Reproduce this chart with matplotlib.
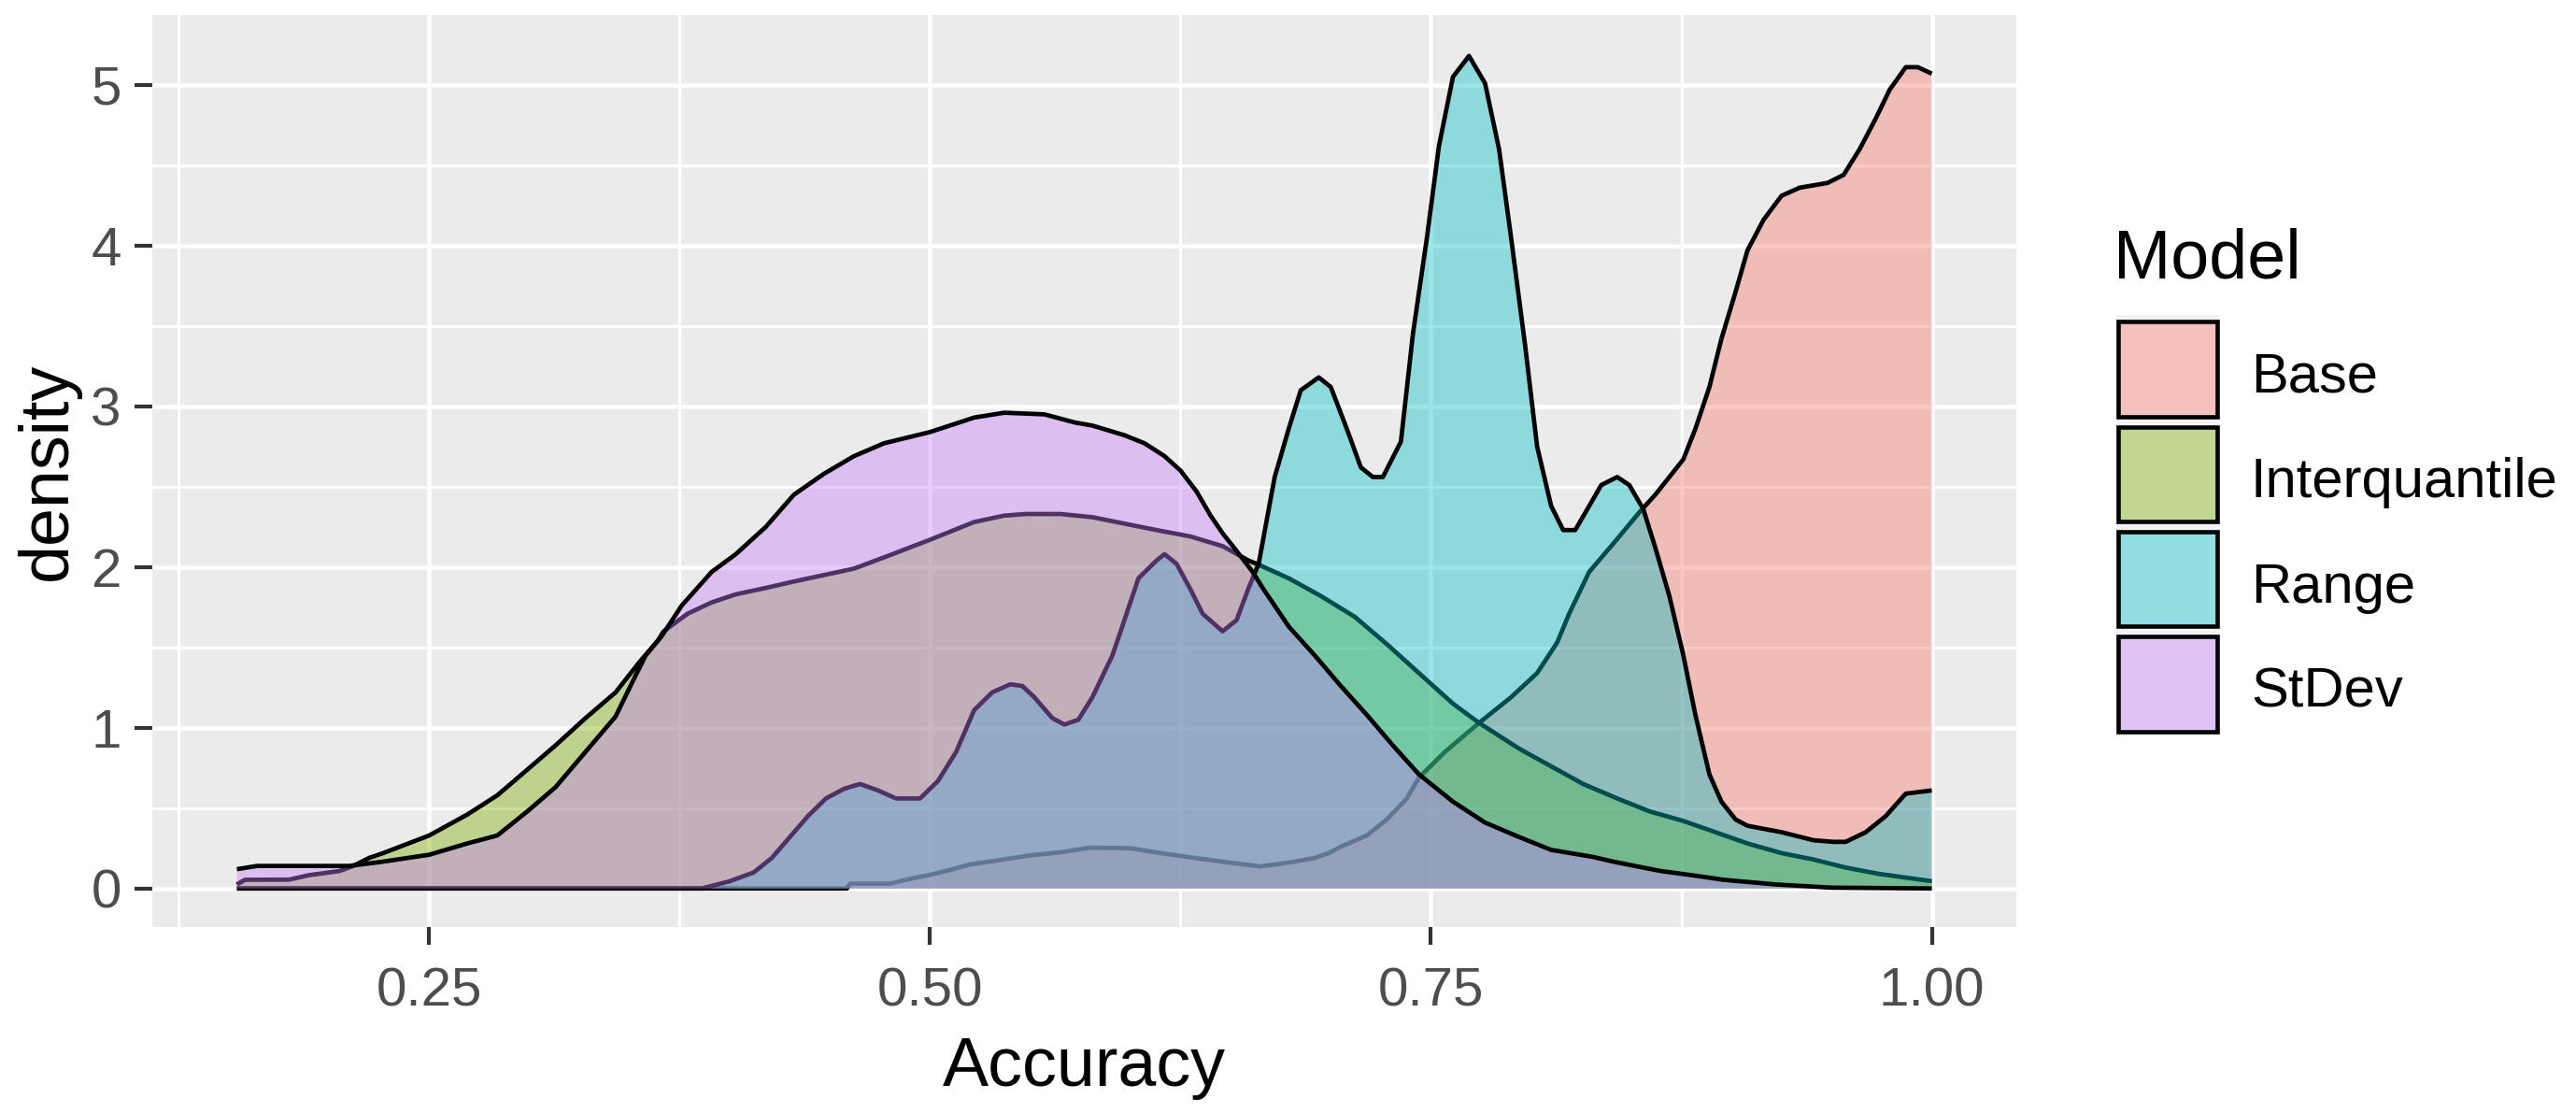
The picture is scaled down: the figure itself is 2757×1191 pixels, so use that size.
import matplotlib
matplotlib.use("Agg")
import matplotlib.pyplot as plt
from matplotlib.patches import Rectangle
from matplotlib.ticker import FixedLocator

plt.rcParams['font.family'] = ['Liberation Sans', 'DejaVu Sans']

# ---------------- data ----------------
models = ["Base", "Interquantile", "Range", "StDev"]
colors = ["#F8766D", "#7CAE00", "#00BFC4", "#C77CFF"]

base_x = [0.154, 0.4585, 0.46, 0.48, 0.49, 0.50, 0.51, 0.52, 0.535, 0.55, 0.565, 0.58,
          0.60, 0.615, 0.632, 0.647, 0.665, 0.681, 0.692, 0.699, 0.705, 0.718, 0.728,
          0.738, 0.744, 0.757, 0.774, 0.790, 0.803, 0.813, 0.819, 0.829, 0.842, 0.854,
          0.862, 0.876, 0.882, 0.889, 0.895, 0.902, 0.908, 0.916, 0.925, 0.934, 0.948,
          0.956, 0.964, 0.972, 0.979, 0.987, 0.993, 1.0]
base_y = [0.0, 0.0, 0.03, 0.03, 0.06, 0.085, 0.115, 0.15, 0.177, 0.206, 0.225, 0.254,
          0.25, 0.22, 0.19, 0.165, 0.137, 0.165, 0.19, 0.22, 0.26, 0.33, 0.43,
          0.56, 0.69, 0.85, 1.03, 1.19, 1.34, 1.53, 1.71, 1.97, 2.16, 2.34,
          2.45, 2.67, 2.86, 3.12, 3.42, 3.71, 3.97, 4.16, 4.31, 4.36, 4.39,
          4.44, 4.60, 4.79, 4.97, 5.11, 5.11, 5.07]

iq_x = [0.154, 0.158, 0.18, 0.19, 0.205, 0.212, 0.22, 0.227, 0.25, 0.269, 0.284, 0.299,
        0.313, 0.328, 0.343, 0.355, 0.364, 0.367, 0.379, 0.391, 0.403, 0.418, 0.432,
        0.447, 0.462, 0.477, 0.50, 0.522, 0.537, 0.548, 0.565, 0.581, 0.597, 0.613,
        0.630, 0.646, 0.659, 0.663, 0.679, 0.695, 0.712, 0.728, 0.744, 0.761, 0.774,
        0.794, 0.810, 0.826, 0.843, 0.859, 0.876, 0.892, 0.908, 0.925, 0.941, 0.957,
        0.974, 1.0]
iq_y = [0.025, 0.054, 0.055, 0.083, 0.108, 0.14, 0.19, 0.22, 0.33, 0.46, 0.58, 0.74,
        0.89, 1.06, 1.22, 1.41, 1.54, 1.60, 1.71, 1.78, 1.83, 1.87, 1.91,
        1.95, 1.99, 2.06, 2.17, 2.28, 2.32, 2.33, 2.33, 2.31, 2.27, 2.23,
        2.19, 2.13, 2.04, 2.02, 1.93, 1.82, 1.69, 1.52, 1.34, 1.15, 1.03,
        0.87, 0.76, 0.65, 0.56, 0.48, 0.42, 0.35, 0.28, 0.22, 0.18, 0.13,
        0.09, 0.045]

range_x = [0.154, 0.386, 0.40, 0.412, 0.421, 0.430, 0.439, 0.448, 0.457, 0.465, 0.474,
           0.483, 0.495, 0.504, 0.513, 0.522, 0.531, 0.540, 0.546, 0.552, 0.561, 0.567,
           0.574, 0.581, 0.591, 0.597, 0.604, 0.613, 0.617, 0.623, 0.630, 0.636, 0.646,
           0.653, 0.659, 0.664, 0.672, 0.679, 0.685, 0.694, 0.700, 0.708, 0.715, 0.721,
           0.726, 0.735, 0.741, 0.748, 0.754, 0.761, 0.769, 0.777, 0.784, 0.790, 0.797,
           0.803, 0.810, 0.816, 0.822, 0.829, 0.835, 0.843, 0.849, 0.856, 0.862, 0.869,
           0.876, 0.882, 0.889, 0.895, 0.902, 0.908, 0.925, 0.941, 0.951, 0.957, 0.967,
           0.977, 0.987, 1.0]
range_y = [0.0, 0.0, 0.045, 0.10, 0.19, 0.32, 0.45, 0.56, 0.62, 0.65, 0.61,
           0.56, 0.56, 0.67, 0.85, 1.11, 1.22, 1.27, 1.26, 1.19, 1.06, 1.02,
           1.05, 1.19, 1.45, 1.67, 1.93, 2.04, 2.08, 2.02, 1.86, 1.71, 1.60,
           1.67, 1.87, 2.02, 2.56, 2.86, 3.10, 3.18, 3.12, 2.86, 2.62, 2.56,
           2.56, 2.78, 3.45, 4.05, 4.62, 5.05, 5.18, 5.01, 4.60, 4.05, 3.38,
           2.75, 2.38, 2.23, 2.23, 2.38, 2.51, 2.56, 2.51, 2.36, 2.12, 1.82,
           1.45, 1.08, 0.71, 0.54, 0.43, 0.39, 0.35, 0.30, 0.29, 0.29, 0.35,
           0.45, 0.59, 0.61]

sd_x = [0.154, 0.164, 0.21, 0.227, 0.25, 0.269, 0.284, 0.299, 0.313, 0.328, 0.343,
        0.352, 0.358, 0.366, 0.376, 0.391, 0.403, 0.418, 0.432, 0.447, 0.462, 0.477,
        0.50, 0.522, 0.537, 0.557, 0.572, 0.581, 0.597, 0.607, 0.617, 0.625, 0.633,
        0.640, 0.646, 0.653, 0.661, 0.666, 0.679, 0.692, 0.705, 0.718, 0.731, 0.744,
        0.761, 0.777, 0.794, 0.810, 0.831, 0.841, 0.853, 0.865, 0.880, 0.896, 0.922,
        0.950, 1.0]
sd_y = [0.12, 0.14, 0.14, 0.167, 0.21, 0.28, 0.33, 0.48, 0.63, 0.85, 1.07,
        1.30, 1.45, 1.57, 1.76, 1.97, 2.08, 2.25, 2.45, 2.58, 2.69, 2.77,
        2.84, 2.93, 2.96, 2.95, 2.90, 2.88, 2.82, 2.77, 2.69, 2.60, 2.47,
        2.32, 2.21, 2.10, 1.97, 1.87, 1.63, 1.45, 1.26, 1.08, 0.89, 0.71,
        0.54, 0.41, 0.32, 0.24, 0.196, 0.167, 0.137, 0.108, 0.083, 0.054, 0.025,
        0.005, 0.0]

series_x = [base_x, iq_x, range_x, sd_x]
series_y = [base_y, iq_y, range_y, sd_y]

x_ticks = [0.25, 0.50, 0.75, 1.00]
x_tick_labels = ["0.25", "0.50", "0.75", "1.00"]
y_ticks = [0, 1, 2, 3, 4, 5]
y_tick_labels = ["0", "1", "2", "3", "4", "5"]

# ---------------- figure ----------------
W, H = 2757, 1191
fig = plt.figure(figsize=(W / 100, H / 100), dpi=100)
fig.patch.set_facecolor("white")

L, R, T, B = 162.7, 2158, 16.0, 992.0
ax = fig.add_axes([L / W, (H - B) / H, (R - L) / W, (B - T) / H])
ax.set_facecolor("#EBEBEB")
for s in ax.spines.values():
    s.set_visible(False)

ax.set_xlim(0.1116, 1.0422)
ax.set_ylim(-0.24, 5.435)

ax.xaxis.set_major_locator(FixedLocator(x_ticks))
ax.set_xticklabels(x_tick_labels)
ax.xaxis.set_minor_locator(FixedLocator([0.125, 0.375, 0.625, 0.875]))
ax.yaxis.set_major_locator(FixedLocator(y_ticks))
ax.set_yticklabels(y_tick_labels)
ax.yaxis.set_minor_locator(FixedLocator([0.5, 1.5, 2.5, 3.5, 4.5]))

ax.grid(which="major", color="white", linewidth=3.3)
ax.grid(which="minor", color="white", linewidth=2.3)
ax.set_axisbelow(True)

ax.tick_params(which="major", length=13.7, width=3.0, color="#333333",
               labelsize=42, labelcolor="#4D4D4D")
ax.tick_params(axis="x", which="major", pad=17)
ax.tick_params(axis="y", which="major", pad=10)
ax.tick_params(which="minor", length=0)

for i, (xs, ys, c) in enumerate(zip(series_x, series_y, colors)):
    ax.fill_between(xs, 0, ys, facecolor=c, alpha=0.4, linewidth=0, zorder=2 + 2 * i)
    ax.plot(xs, ys, color="black", linewidth=3.4, zorder=3 + 2 * i,
            solid_joinstyle="round", solid_capstyle="butt")

# axis titles
fig.text(1160 / W, 1 - 1162 / H, "Accuracy", ha="center", va="baseline",
         fontsize=53, color="black")
fig.text(71 / W, 1 - 504 / H, "density", rotation=90, rotation_mode="anchor",
         ha="center", va="baseline", fontsize=53, color="black")

# legend
fig.text(2262 / W, 1 - 297 / H, "Model", ha="left", va="baseline", fontsize=53,
         color="black")
lw_px = 4.6
for i, (name, c) in enumerate(zip(models, colors)):
    top = 342 + 112.3 * i
    bot = top + 106
    bg = Rectangle((2265 / W, 1 - (bot + 2) / H), 110 / W, (bot + 2 - (top - 5)) / H,
                   transform=fig.transFigure, facecolor="#F2F2F2", edgecolor="none")
    fig.patches.append(bg)
    inset = lw_px / 2
    box = Rectangle(((2265 + inset) / W, 1 - (bot - inset) / H),
                    (110 - 2 * inset) / W, (bot - top - 2 * inset) / H,
                    transform=fig.transFigure, facecolor=c, alpha=0.4,
                    edgecolor="none")
    fig.patches.append(box)
    edge = Rectangle(((2265 + inset) / W, 1 - (bot - inset) / H),
                     (110 - 2 * inset) / W, (bot - top - 2 * inset) / H,
                     transform=fig.transFigure, facecolor="none",
                     edgecolor="black", linewidth=lw_px * 0.72)
    fig.patches.append(edge)
    fig.text(2409 / W, 1 - ((top + bot) / 2 + 25) / H, name, ha="left",
             va="baseline", fontsize=43, color="black")

fig.savefig("out.png", dpi=100, facecolor="white")
